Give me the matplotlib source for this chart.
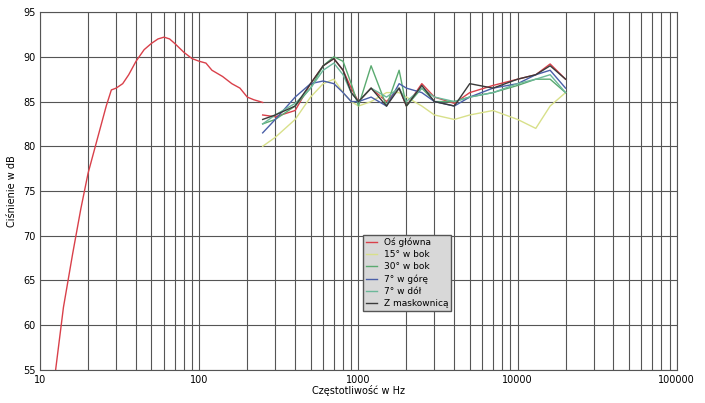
import numpy as np
import matplotlib
matplotlib.use("Agg")
import matplotlib.pyplot as plt
from matplotlib.ticker import LogLocator, FixedLocator, NullFormatter

main_f = [12.5,14,16,18,20,23,26,28,30,33,36,40,45,50,55,60,65,70,80,90,100,110,120,140,160,180,200,220,240,250]
main_db = [55,62,68,73,77,81,84.5,86.3,86.5,87,88,89.5,90.8,91.5,92,92.2,92,91.5,90.5,89.8,89.5,89.3,88.5,87.8,87,86.5,85.5,85.2,85,84.9]

f = [250,300,400,500,600,700,800,900,1000,1200,1500,1800,2000,2500,3000,4000,5000,7000,10000,13000,16000,20000]
os_gl = [83.5,83.3,84,87,89,89.8,88.5,86.5,85,86.5,85,86.5,84.5,87,85.5,84.8,86,86.8,87.5,88,89.2,87.5]
w15 = [80,81,83,85.5,87,87.5,86,85,84.5,85,86,86,85.5,84.5,83.5,83,83.5,84,83,82,84.5,86]
w30 = [82.5,83,84.5,86.5,89,90,89.5,87,84.5,89,84.5,88.5,84.5,86.5,85,85,85.5,86,86.8,87.5,87.5,86]
w7g = [81.5,83,85.5,87,87.3,87,86,85,85,85.5,84.5,87,86.5,86,85,84.5,85.5,86.5,87,88,88.5,86.5]
w7d = [82.5,83.5,84.8,86.5,88.5,89.3,88,86,85,86.5,85.5,86.5,85,86.5,85.5,85,85.5,86,87,87.5,88,86]
mask = [83,83.5,84.5,87,89,89.8,88.5,86,85,86.5,84.5,86.5,84.5,86.8,85,84.5,87,86.5,87.5,88,89,87.5]

labels = ["Oś główna", "15° w bok", "30° w bok", "7° w górę", "7° w dół", "Z maskownicą"]
colors = ["#d9404a", "#d8e08a", "#5aaa70", "#4a5fa8", "#6cb89a", "#3a3a3a"]

fig = plt.figure(figsize=(7.05, 4.03), dpi=100)
ax = fig.add_axes([0.057, 0.082, 0.903, 0.888])
ax.set_xscale("log")
ax.set_xlim(10, 100000)
ax.set_ylim(55, 95)
ax.set_yticks(range(55, 96, 5))
ax.xaxis.set_major_locator(FixedLocator([10, 100, 1000, 10000, 100000]))
ax.set_xticklabels(["10", "100", "1000", "10000", "100000"])
ax.xaxis.set_minor_locator(LogLocator(base=10, subs=np.arange(2, 10)))
ax.xaxis.set_minor_formatter(NullFormatter())
ax.grid(True, which="both", axis="x", color="#555555", lw=0.8)
ax.grid(True, which="major", axis="y", color="#555555", lw=0.8)
ax.tick_params(labelsize=7, length=0, which="both")

ax.plot(main_f, main_db, color=colors[0], lw=1.0)
series = [os_gl, w15, w30, w7g, w7d, mask]
for s, c, l in zip(series, colors, labels):
    ax.plot(f, s, color=c, lw=1.0, label=l)

ax.set_xlabel("Częstotliwość w Hz", fontsize=7, labelpad=0)
ax.set_ylabel("Ciśnienie w dB", fontsize=7)
leg = ax.legend(loc="upper left", bbox_to_anchor=(0.5, 0.39), fontsize=6.5, frameon=True,
                fancybox=False, handlelength=1.2, labelspacing=0.35, borderpad=0.3)
leg.get_frame().set_facecolor("#d8d8d8")
leg.get_frame().set_edgecolor("#555555")
leg.get_frame().set_alpha(1)
for sp in ax.spines.values():
    sp.set_color("#555555")
fig.savefig("out.png", dpi=100)
